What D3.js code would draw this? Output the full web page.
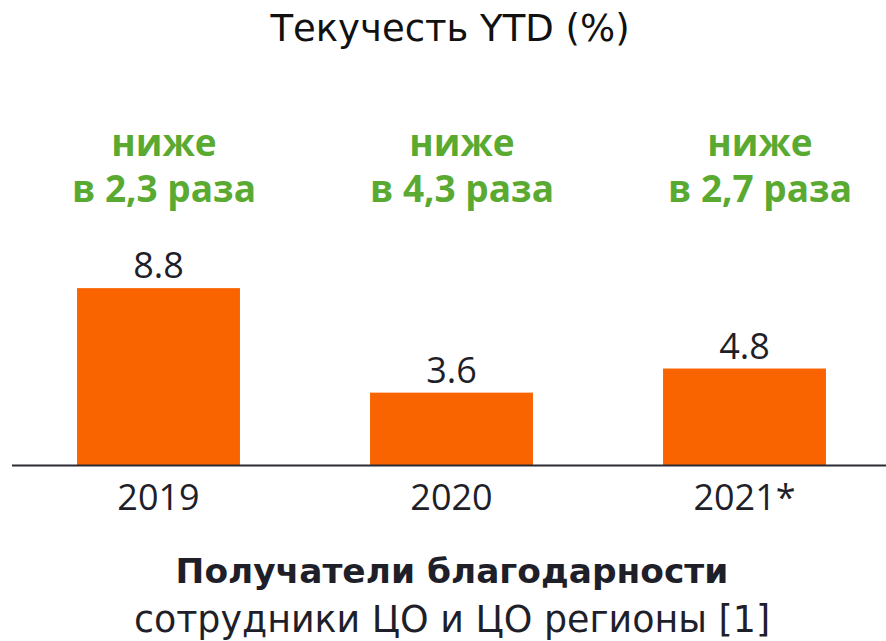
<!DOCTYPE html>
<html>
<head>
<meta charset="utf-8">
<script src="https://cdn.jsdelivr.net/npm/d3@7"></script>
<style>
  body { margin: 0; background: #fff; }
  text { font-family: "Open Sans", "Noto Sans", sans-serif; }
</style>
</head>
<body>
<script>
// chart data
var years = ["2019", "2020", "2021*"];
var values = [8.8, 3.6, 4.8];
var valueLabels = ["8.8", "3.6", "4.8"];
var noteTop = ["ниже", "ниже", "ниже"];
var noteBottom = ["в 2,3 раза", "в 4,3 раза", "в 2,7 раза"];

var width = 886, height = 641;

var svg = d3.select("body").append("svg")
    .attr("width", width)
    .attr("height", height);

// scales
var x = d3.scaleBand()
    .domain(years)
    .range([12, 891])
    .paddingInner(0.444)
    .paddingOuter(0.222);

// the green notes sit on a slightly wider grid than the bars
var xNote = d3.scalePoint()
    .domain(years)
    .range([164, 760]);

var y = d3.scaleLinear()
    .domain([0, 10])
    .range([465, 264]);

var data = years.map(function(d, i) {
    return {year: d, value: values[i], label: valueLabels[i], top: noteTop[i], bottom: noteBottom[i]};
});

// title
svg.append("text")
    .attr("x", 450)
    .attr("y", 41)
    .attr("text-anchor", "middle")
    .style("font-family", "'DejaVu Sans', sans-serif")
    .style("font-size", "37px")
    .style("fill", "#111")
    .text("Текучесть YTD (%)");

// bars
svg.selectAll("rect.bar")
    .data(data)
    .enter().append("rect")
    .attr("class", "bar")
    .attr("x", function(d) { return x(d.year); })
    .attr("width", x.bandwidth())
    .attr("y", function(d) { return y(d.value); })
    .attr("height", function(d) { return y(0) - y(d.value); })
    .style("fill", "#f96400");

// baseline
svg.append("line")
    .attr("x1", 12)
    .attr("x2", width)
    .attr("y1", y(0) + 0.5)
    .attr("y2", y(0) + 0.5)
    .style("stroke", "#2b2b35")
    .style("stroke-width", 2);

// value labels
svg.selectAll("text.val")
    .data(data)
    .enter().append("text")
    .attr("class", "val")
    .attr("x", function(d) { return x(d.year) + x.bandwidth() / 2; })
    .attr("y", function(d) { return y(d.value) - 10; })
    .attr("text-anchor", "middle")
    .style("font-size", "36px")
    .style("fill", "#1f1f2a")
    .text(function(d) { return d.label; });

// green notes
var notes = svg.selectAll("g.note")
    .data(data)
    .enter().append("g")
    .attr("class", "note")
    .attr("transform", function(d) { return "translate(" + xNote(d.year) + ",0)"; });

notes.append("text")
    .attr("y", 156)
    .attr("text-anchor", "middle")
    .style("font-size", "37px")
    .style("font-weight", "bold")
    .style("fill", "#5aaa32")
    .text(function(d) { return d.top; });

notes.append("text")
    .attr("y", 202)
    .attr("text-anchor", "middle")
    .style("font-size", "37px")
    .style("font-weight", "bold")
    .style("fill", "#5aaa32")
    .text(function(d) { return d.bottom; });

// x axis labels
svg.append("g")
    .attr("transform", "translate(0," + y(0) + ")")
    .call(d3.axisBottom(x).tickSize(0).tickPadding(0))
    .call(function(g) { g.select(".domain").remove(); })
    .selectAll("text")
    .attr("y", 45)
    .attr("dy", 0)
    .style("font-family", "'Open Sans', sans-serif")
    .style("font-size", "36px")
    .style("fill", "#1f1f2a");

// footer
svg.append("text")
    .attr("x", 452)
    .attr("y", 583)
    .attr("text-anchor", "middle")
    .style("font-family", "'DejaVu Sans', sans-serif")
    .style("font-size", "34.4px")
    .style("font-weight", "bold")
    .style("fill", "#1f1f2a")
    .text("Получатели благодарности");

svg.append("text")
    .attr("x", 452)
    .attr("y", 632)
    .attr("text-anchor", "middle")
    .style("font-family", "'DejaVu Sans', sans-serif")
    .style("font-size", "36.4px")
    .style("fill", "#1f1f2a")
    .text("сотрудники ЦО и ЦО регионы [1]");
</script>
</body>
</html>
